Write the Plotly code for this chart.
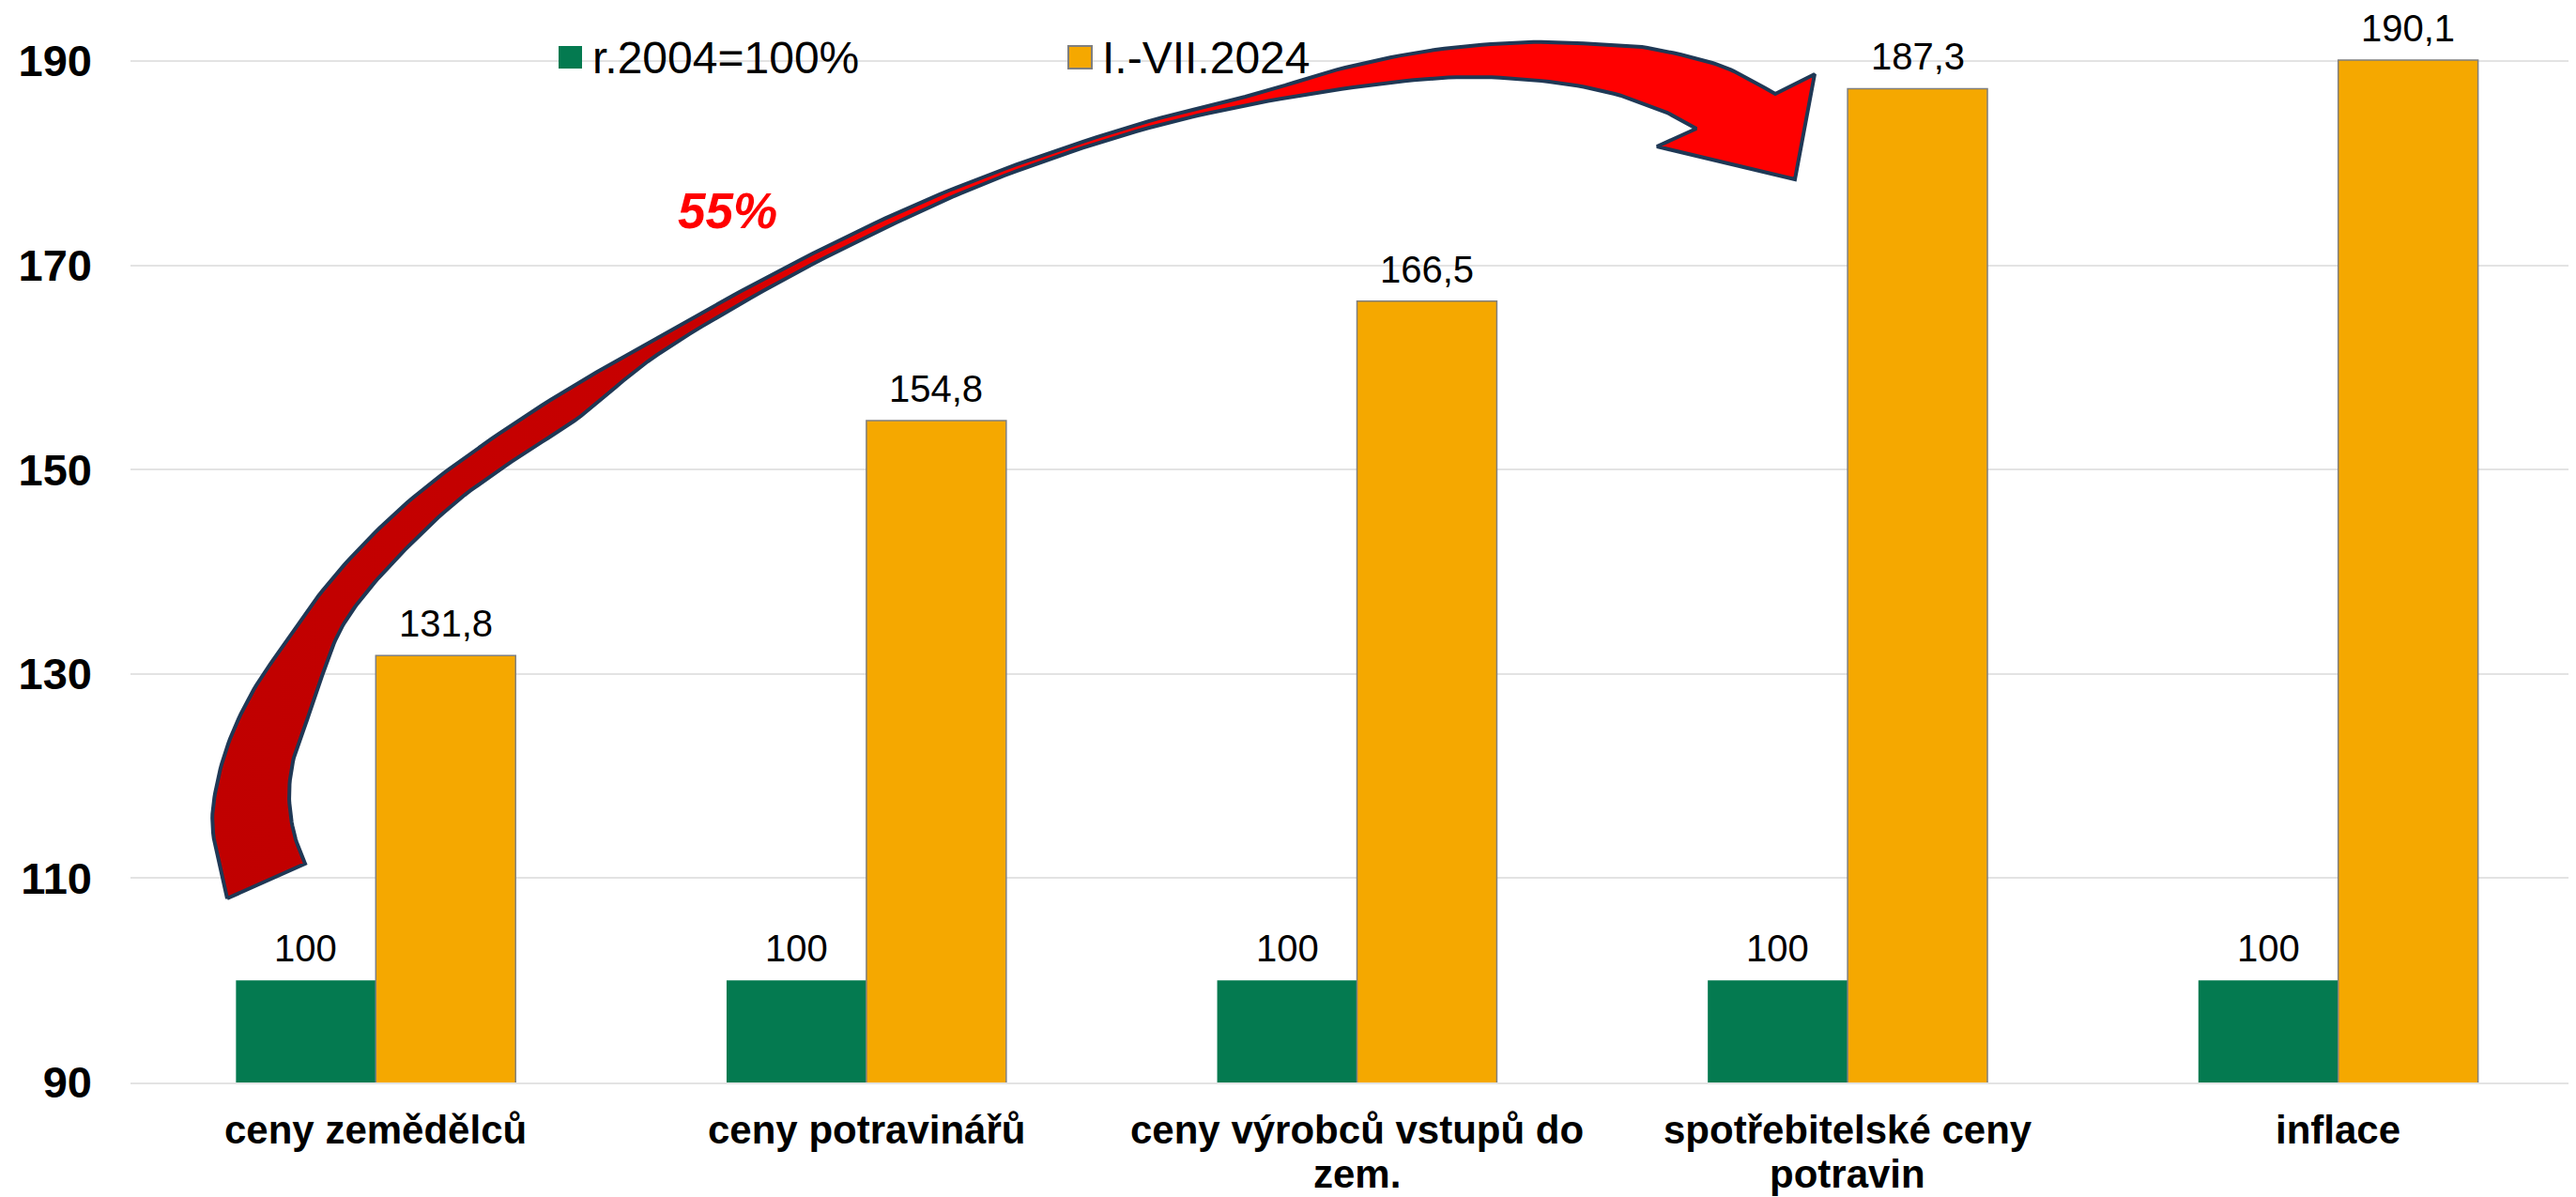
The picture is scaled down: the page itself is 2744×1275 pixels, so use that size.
import numpy as np
import plotly.graph_objects as go

# ---- data ----
categories = ["ceny zemědělců", "ceny potravinářů", "ceny výrobců vstupů do<br>zem.",
              "spotřebitelské ceny<br>potravin", "inflace"]
series_names = ["r.2004=100%", "I.-VII.2024"]
base_2004 = [100, 100, 100, 100, 100]
values_2024 = [131.8, 154.8, 166.5, 187.3, 190.1]
y_ticks = [90, 110, 130, 150, 170, 190]
growth_label = "55%"

GREEN = "#047A50"
ORANGE = "#F5A800"
FONT = "Arial, Liberation Sans, sans-serif"

# page has an 8px body margin: size the figure so the plot lands where the reference has it
OFF = 8
VW, VH = 2744, 1275           # viewport
PL, PB = 139, 1153            # plot left / bottom in viewport pixels
W, H = VW - OFF, VH - OFF
ML, MR, MT, MB = PL - OFF, 0, 0, VH - PB
BARGAP = 0.43
PX_PER_UNIT = 10.88
Y_TOP = 90 + (PB - OFF) / PX_PER_UNIT

def fmt(v):
    s = f"{v:.1f}".replace(".", ",")
    return s[:-2] if s.endswith(",0") else s

xs = list(range(len(categories)))
fig = go.Figure()
fig.add_trace(go.Bar(x=xs, y=base_2004, name=series_names[0],
                     marker=dict(color=GREEN, line=dict(width=0)), showlegend=False))
fig.add_trace(go.Bar(x=xs, y=values_2024, name=series_names[1],
                     marker=dict(color=ORANGE, line=dict(color="#7F7F7F", width=1.5)), showlegend=False))

# value labels (data coordinates)
half = (1 - BARGAP) / 4
annotations = []
for i in xs:
    for vals, off in ((base_2004, -half), (values_2024, half)):
        annotations.append(dict(x=i + off, y=vals[i], xref="x", yref="y", text=fmt(vals[i]),
                                showarrow=False, yanchor="bottom", xanchor="center", yshift=10,
                                font=dict(family=FONT, size=40, color="#000")))

# category labels (one annotation per line, tighter line spacing)
for i, cat in enumerate(categories):
    for j, line in enumerate(cat.split("<br>")):
        annotations.append(dict(x=i, y=0, xref="x", yref="paper", text=f"<b>{line}</b>",
                                showarrow=False, xanchor="center", yanchor="top",
                                yshift=-25 - 47 * j,
                                font=dict(family=FONT, size=42, color="#000")))

# ---- decorative curved arrow (viewport pixel coordinates on overlay axes) ----
def catmull(points, n=10):
    p = np.array(points, dtype=float)
    p = np.vstack([p[0] * 2 - p[1], p, p[-1] * 2 - p[-2]])
    out = []
    for k in range(1, len(p) - 2):
        p0, p1, p2, p3 = p[k - 1], p[k], p[k + 1], p[k + 2]
        for t in np.linspace(0, 1, n, endpoint=False):
            t2, t3 = t * t, t * t * t
            out.append(0.5 * ((2 * p1) + (-p0 + p2) * t + (2 * p0 - 5 * p1 + 4 * p2 - p3) * t2
                              + (-p0 + 3 * p1 - 3 * p2 + p3) * t3))
    out.append(p[-2])
    return [tuple(q) for q in out]

outer = [(242, 957), (227, 887), (230, 840), (245, 787), (270, 735), (300, 690), (335, 640),
         (382, 585), (440, 530), (507, 479), (596, 420), (700, 360), (827, 290), (955, 227),
         (1070, 180), (1210, 133), (1338, 100), (1433, 72), (1529, 53), (1625, 45), (1700, 47),
         (1755, 51), (1824, 67), (1859, 82), (1891, 100)]
head = [(1933, 79), (1912, 191), (1765, 156), (1807, 137)]
inner = [(1776, 120), (1720, 100), (1650, 87), (1561, 82), (1465, 90), (1338, 110), (1210, 140),
         (1070, 187), (955, 237), (827, 302), (700, 378), (619, 443), (552, 487), (489, 532),
         (436, 581), (391, 630), (362, 672), (343, 720), (327, 767), (313, 807), (308, 847),
         (313, 887), (325, 920)]
pts = catmull(outer) + head + catmull(inner) + [outer[0]]
fig.add_trace(go.Scatter(x=[p[0] for p in pts], y=[p[1] for p in pts], xaxis="x2", yaxis="y2",
                         mode="lines", fill="toself",
                         line=dict(color="#1F3855", width=4),
                         fillgradient=dict(type="horizontal",
                                           colorscale=[[0, "#C00000"], [0.3, "#C80000"],
                                                       [0.45, "#FF0000"], [1, "#FF0000"]]),
                         hoverinfo="skip", showlegend=False))

# 55% label
annotations.append(dict(x=775, y=224, xref="x2", yref="y2", text=f"<b><i>{growth_label}</i></b>",
                        showarrow=False, xanchor="center", yanchor="middle",
                        font=dict(family=FONT, size=53, color="#FF0000")))

# manual legend
shapes = []
legend_items = [(series_names[0], GREEN, GREEN, 595), (series_names[1], ORANGE, "#7F7F7F", 1138)]
for name, col, lcol, x0 in legend_items:
    shapes.append(dict(type="rect", xref="x2", yref="y2", x0=x0, x1=x0 + 25, y0=49, y1=73,
                       fillcolor=col, line=dict(color=lcol, width=2 if lcol != col else 0)))
    annotations.append(dict(x=x0 + 34, y=61, xref="x2", yref="y2", text=name, showarrow=False,
                            xanchor="left", yanchor="middle",
                            font=dict(family=FONT, size=48, color="#000")))

plot_w = W - ML - MR
x_end = (plot_w - 0.5) / 522.5 - 0.5

fig.update_layout(
    width=W, height=H,
    margin=dict(l=ML, r=MR, t=MT, b=MB, pad=0, autoexpand=False),
    paper_bgcolor="white", plot_bgcolor="white",
    barmode="group", bargap=BARGAP, bargroupgap=0,
    showlegend=False,
    annotations=annotations, shapes=shapes,
    xaxis=dict(tickmode="array", tickvals=xs, showticklabels=False,
               range=[-0.5, x_end], showgrid=False, zeroline=False,
               showline=True, linecolor="#E3E3E3", linewidth=2,
               ticks="", automargin=False),
    yaxis=dict(range=[90, Y_TOP], tickmode="array", tickvals=y_ticks,
               showgrid=True, gridcolor="#E3E3E3", gridwidth=2, zeroline=False, showline=False,
               tickfont=dict(family=FONT, size=47, color="#000", weight="bold"),
               ticks="", ticklabelstandoff=40, automargin=False),
    xaxis2=dict(overlaying="x", anchor="y2", range=[PL, VW], visible=False),
    yaxis2=dict(overlaying="y", anchor="x2", range=[PB, OFF], visible=False),
)

fig.write_html("out.html", config=dict(displayModeBar=False))
